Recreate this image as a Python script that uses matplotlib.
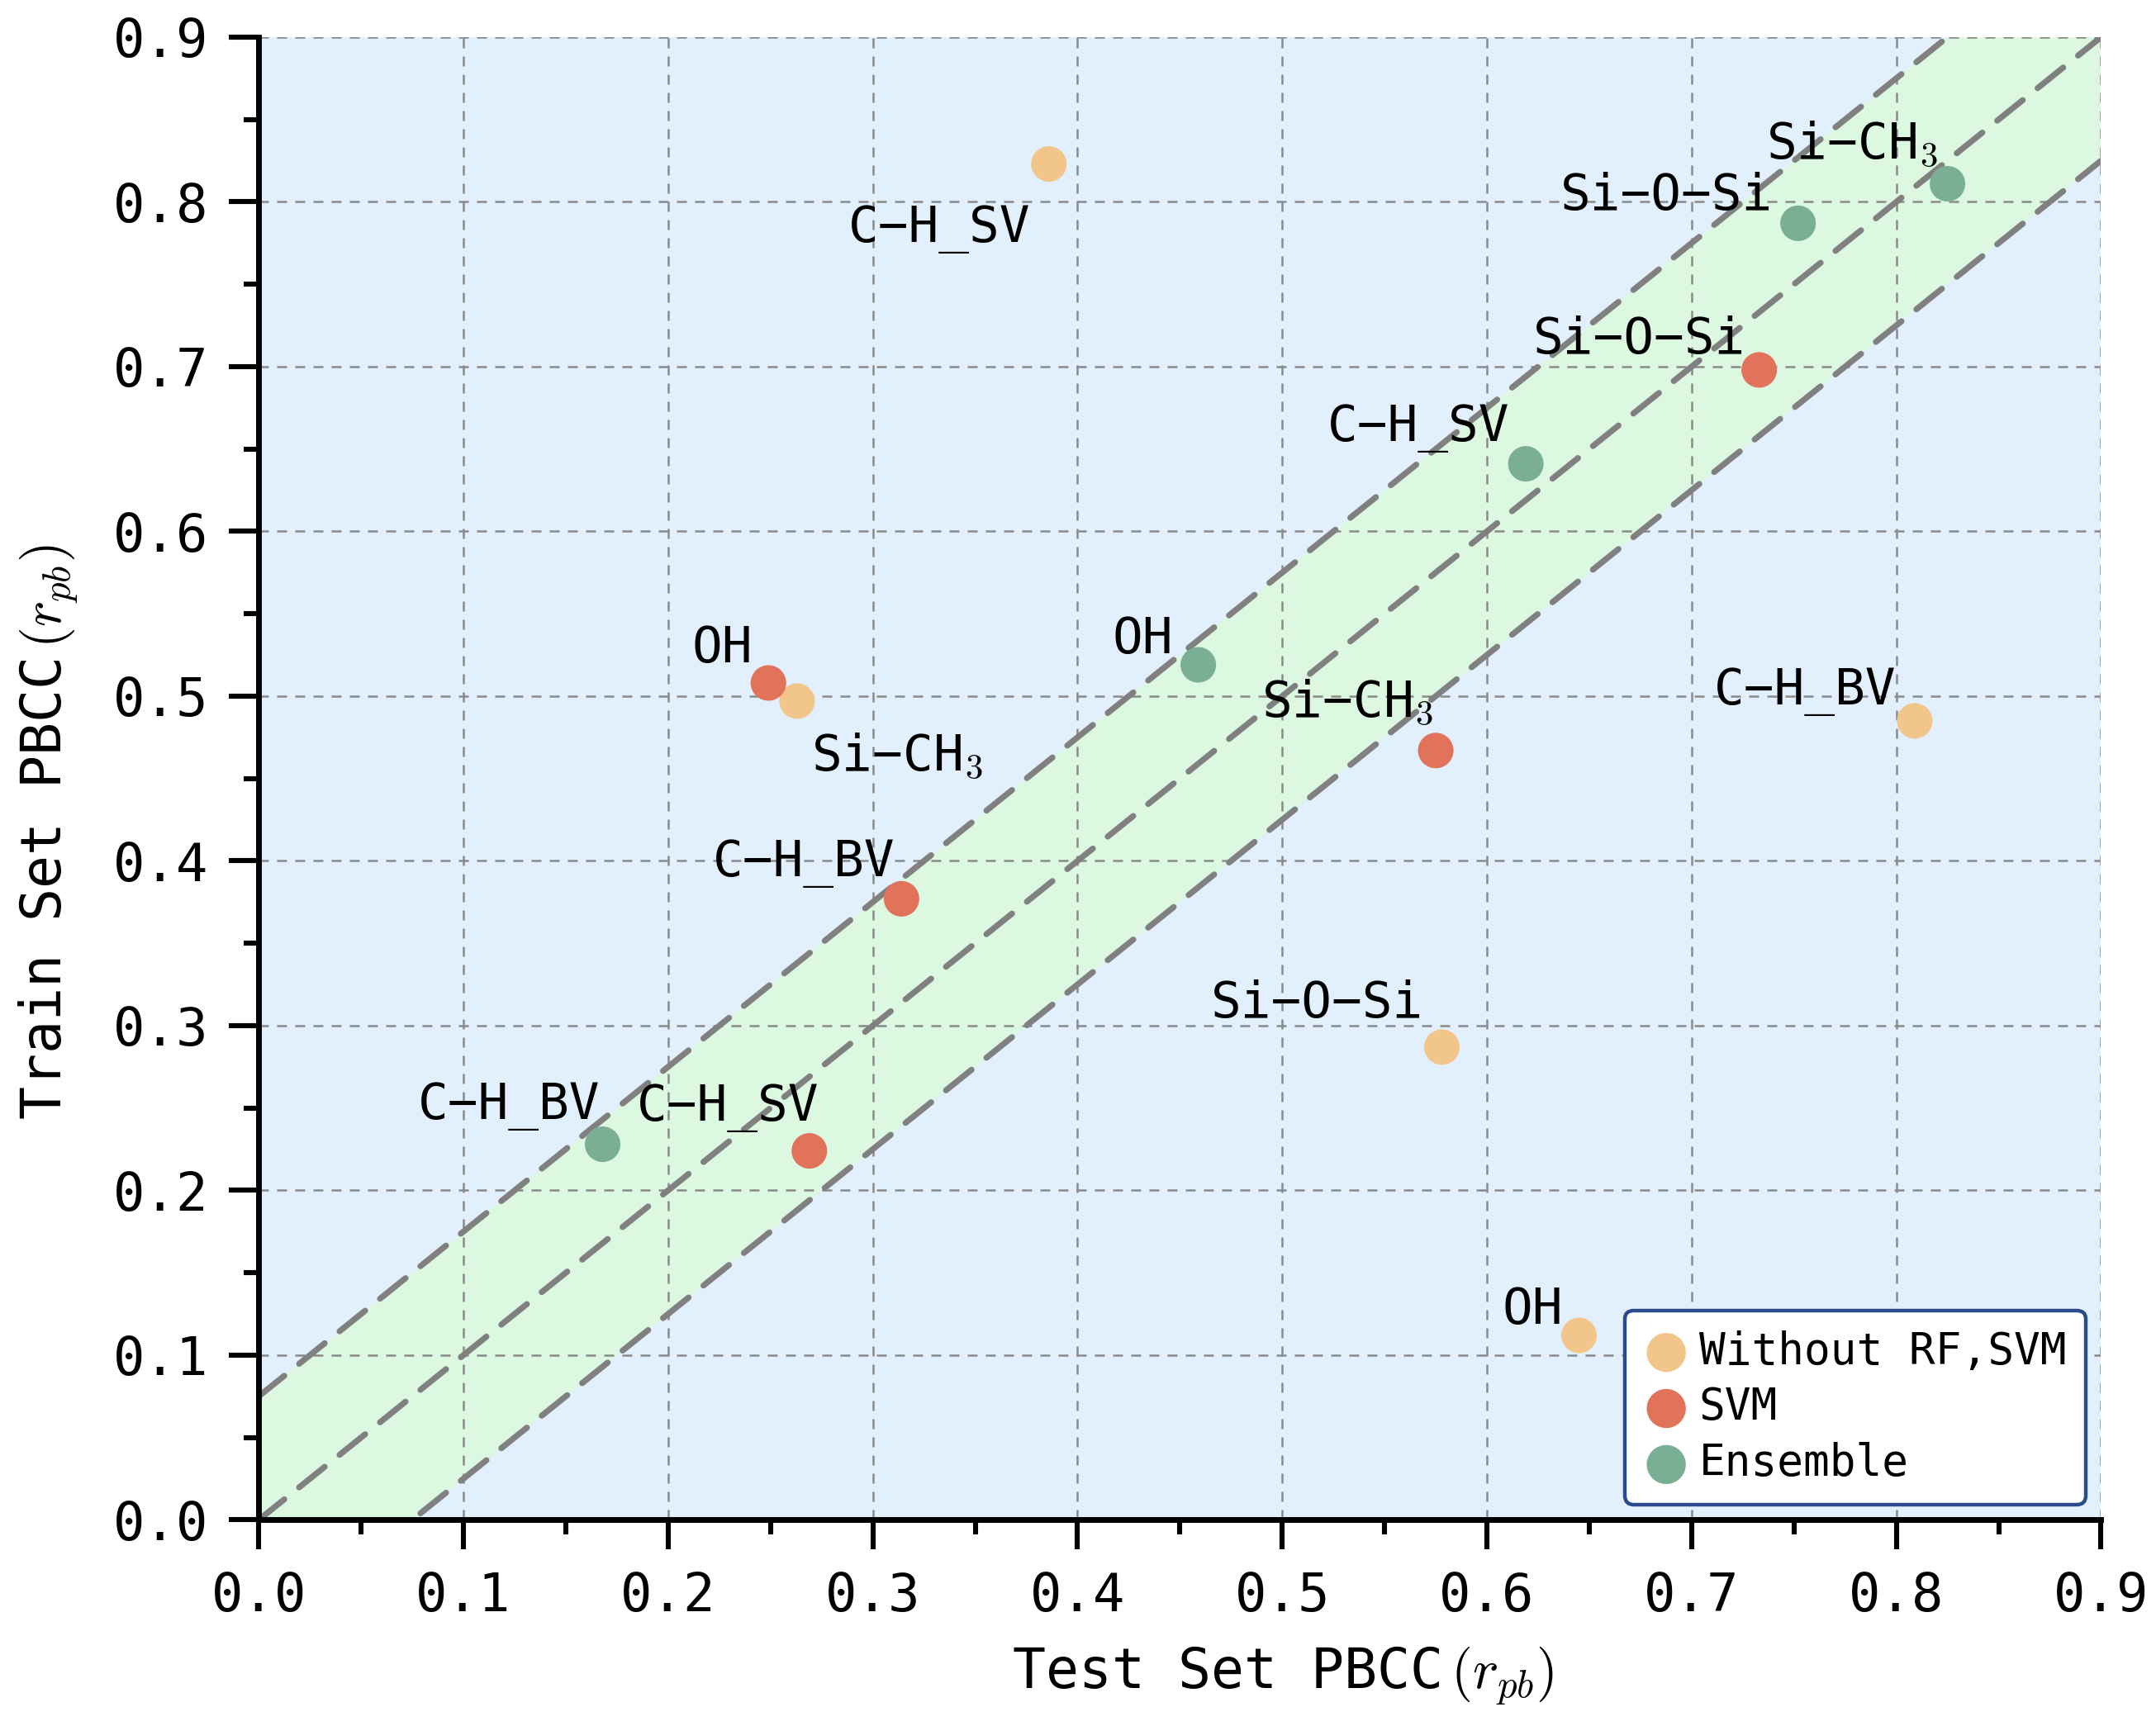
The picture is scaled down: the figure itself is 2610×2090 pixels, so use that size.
import matplotlib
matplotlib.use("Agg")
import matplotlib.pyplot as plt
import numpy as np

plt.rcParams['font.family'] = ['DejaVu Sans Mono', 'DejaVu Sans']
plt.rcParams['mathtext.fontset'] = 'cm'

# model groups
groups = ['Without RF,SVM', 'SVM', 'Ensemble']
colors = ['#F2C68A', '#E0735A', '#7AAE95']

# test set PBCC (x) / train set PBCC (y), one list per group
labels_norf = ['C−H_SV', 'Si−CH$_\\mathsf{3}$', 'C−H_BV', 'Si−O−Si', 'OH']
test_norf = [0.386, 0.263, 0.809, 0.578, 0.645]
train_norf = [0.823, 0.497, 0.485, 0.287, 0.112]

labels_svm = ['OH', 'C−H_BV', 'C−H_SV', 'Si−CH$_\\mathsf{3}$', 'Si−O−Si']
test_svm = [0.249, 0.314, 0.269, 0.575, 0.733]
train_svm = [0.508, 0.377, 0.224, 0.467, 0.698]

labels_ens = ['C−H_BV', 'OH', 'C−H_SV', 'Si−O−Si', 'Si−CH$_\\mathsf{3}$']
test_ens = [0.168, 0.459, 0.619, 0.752, 0.825]
train_ens = [0.228, 0.519, 0.641, 0.787, 0.811]

band = 0.075  # half-width of the tolerance band around y = x

# label offsets (points) and horizontal alignment for each annotation
offs_norf = [(-8, -34, 'right'), (6, -30, 'left'), (-8, 7, 'right'), (-8, 13, 'right'), (-7, 5, 'right')]
offs_svm = [(-7, 9, 'right'), (-3, 10, 'right'), (4, 13, 'right'), (-1, 15, 'right'), (-6, 7, 'right')]
offs_ens = [(-1, 11, 'right'), (-11, 5, 'right'), (-7, 10, 'right'), (-11, 6, 'right'), (-4, 11, 'right')]

fig = plt.figure(figsize=(13.05, 10.45), dpi=200)
ax = fig.add_axes([0.12, 0.1194, 0.8545, 0.8591])
ax.set_facecolor('#E1F0FC')

xx = np.array([0.0, 0.9])
ax.fill_between(xx, xx - band, xx + band, color='#DCF8E0', lw=0, zorder=1)
for off in (-band, 0.0, band):
    ax.plot(xx, xx + off, color='#808080', lw=2.6, ls=(0, (5.5, 3.2)),
            dash_capstyle='round', zorder=2)

series = [
    (test_norf, train_norf, labels_norf, offs_norf),
    (test_svm, train_svm, labels_svm, offs_svm),
    (test_ens, train_ens, labels_ens, offs_ens),
]
for (xs, ys, labs, offs), name, col in zip(series, groups, colors):
    ax.scatter(xs, ys, s=240, color=col, edgecolors='none', zorder=3, label=name)
    for x, y, lab, (dx, dy, ha) in zip(xs, ys, labs, offs):
        ax.annotate(lab, (x, y), xytext=(dx, dy), textcoords='offset points',
                    ha=ha, va='baseline', fontsize=22, zorder=4)

ax.set_xlim(0, 0.9)
ax.set_ylim(0, 0.9)
ticks = np.arange(0, 0.91, 0.1)
ax.set_xticks(ticks)
ax.set_yticks(ticks)
ax.set_xticks(np.arange(0, 0.91, 0.05), minor=True)
ax.set_yticks(np.arange(0, 0.91, 0.05), minor=True)
ax.set_xticklabels([f'{t:.1f}' for t in ticks])
ax.set_yticklabels([f'{t:.1f}' for t in ticks])
ax.tick_params(which='major', direction='out', length=13, width=2.2, labelsize=23, pad=9)
ax.tick_params(which='minor', direction='out', length=6.5, width=2.2)

ax.grid(True, which='major', color='#8A8A8A', lw=0.9, ls=(0, (4.8, 4)))

for side in ('top', 'right'):
    ax.spines[side].set_visible(False)
for side in ('left', 'bottom'):
    ax.spines[side].set_linewidth(2.5)

ax.set_xlabel('Test Set PBCC$\\,(r_{pb})$', fontsize=24)
ax.set_ylabel('Train Set PBCC$\\,(r_{pb})$', fontsize=24)
ax.xaxis.set_label_coords(0.556, -0.084)
ax.yaxis.set_label_coords(-0.097, 0.464)

leg = ax.legend(loc='lower right', fontsize=19, frameon=True, fancybox=True,
                framealpha=1, borderaxespad=0.35, handletextpad=0.25,
                handlelength=1.0, labelspacing=0.3, borderpad=0.45,
                markerscale=1.1)
leg.get_frame().set_edgecolor('#2B4C8C')
leg.get_frame().set_linewidth(1.6)

fig.savefig('out.png', dpi=200)
